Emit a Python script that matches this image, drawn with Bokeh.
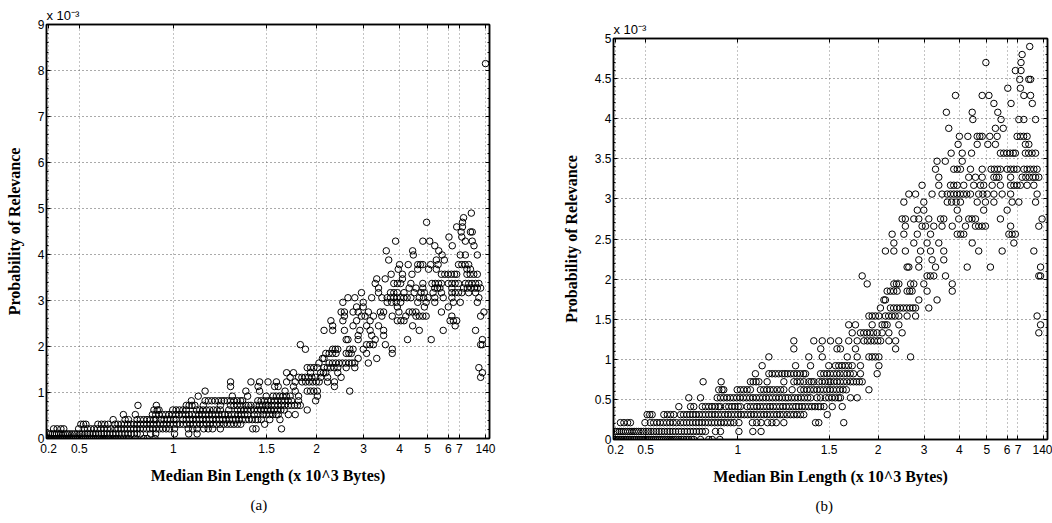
from bokeh.plotting import figure
from bokeh.layouts import row, column
from bokeh.models import (FixedTicker, ColumnDataSource, LinearAxis, Range1d, Spacer,
                          Title, CustomJSTickFormatter, NumeralTickFormatter)
from bokeh.embed import file_html
from bokeh.resources import INLINE

# ---------------- data (x = bin index, y = probability in units of 1e-3) ----------------
tick_idx = [1.0, 14.8, 57.3, 99.4, 121.9, 143.1, 159.4, 172.0, 181.4, 186.4, 198.2]
tick_text = ["0.2", "0.5", "1", "1.5", "2", "3", "4", "5", "6", "7", "140"]

rows_low = [
    (0.0, [0.3, 1, 1.8, 2.5, 3.3, 4, 4.8, 5.6, 6.4, 7.2, 8, 8.9, 9.7, 10.5, 11.4, 12.2, 13.1, 14,
           14.9, 15.8, 16.7, 17.6, 18.5, 19.4, 20.3, 21.2, 22.1, 23, 24, 25, 26, 27, 28, 29, 30.1,
           31.2, 32.3, 33.5, 34.7, 36, 37, 40.1, 43.9, 45.5, 49.0]),
    (0.1, [0.9, 1.8, 2.7, 3.6, 4.5, 5.5, 6.5, 7.5, 8.5, 9.5, 10.5, 11.6, 12.7, 13.8, 15, 16.1, 17.3,
           18.5, 19.7, 21, 22.2, 23.5, 24.8, 26, 27.3, 28.6, 30, 31.3, 32.7, 34, 35.4, 36.8, 38.2,
           39.6, 40.9, 42.4, 47.0, 49.3, 57.8, 64.2, 68.0]),
    (0.21, [3.2, 4.8, 6.5, 7.8, 14.5, 17, 18.5, 20, 21.5, 23, 24.5, 26, 27.5, 29, 30.9, 32.3, 33.7,
            35.1, 36.5, 38, 39.4, 40.8, 42.3, 43.7, 45.2, 46.6, 48, 49.5, 51, 52.5, 54, 55.5, 57.8,
            64, 66, 68, 71, 73, 75, 78.5, 93.1, 94.6, 106.1]),
    (0.31, [15.5, 16.7, 17.8, 23.2, 24.8, 26.3, 27.8, 30.9, 32.3, 33.8, 35.2, 36.6, 38, 39.5, 41,
            42.4, 43.9, 45.3, 46.8, 48.3, 49.8, 51.3, 52.8, 54.3, 55.8, 57.3, 58.8, 60.3, 61.8, 63.3,
            64.8, 66.3, 67.8, 69.3, 70.8, 72.3, 73.8, 75.3, 76.8, 78.3, 80, 81.6, 83.1, 84.6, 86.2,
            87.7, 98.5]),
    (0.41, [30.1, 35.5, 37, 40.9, 42.4, 43.9, 45.4, 46.9, 48.4, 49.3, 51.6, 53.1, 54.6, 56, 57.5,
            58.5, 61.6, 63.1, 64.6, 66.1, 67.6, 69.1, 70.6, 72.1, 73.6, 75.1, 76.6, 78.1, 79.6, 81,
            82.6, 84.1, 85.4, 86.9, 88.4, 89.9, 91.4, 92.9, 94.4, 95.4, 97, 100.8, 105.4]),
    (0.52, [34.7, 40.1, 47.8, 49.3, 50.8, 52.3, 53.8, 55.3, 56.8, 58.3, 59.8, 61.3, 62.8, 64.3, 65.8,
            67.3, 68.8, 70.3, 71.8, 73.3, 74.8, 76.3, 77.8, 79.3, 80.5, 82, 83.5, 85, 86.5, 88, 89.5,
            90.8, 93.8, 95.4, 97.7, 99.2, 100.7, 102.2, 103.7, 104.6, 109.2, 112.3]),
    (0.62, [48.5, 50, 50.8, 57, 58.5, 60, 61.6, 63.1, 67.7, 69.2, 70.7, 72.2, 73.7, 75.4, 77, 78.5,
            82.3, 86.2, 87.7, 89.2, 90.7, 92.3, 93.8, 95.3, 96.8, 98.3, 99.8, 101.3, 102.8, 104.3,
            105.8, 107.3, 117.7]),
    (0.72, [41.3, 49.6, 63.1, 64.4, 65.7, 67, 70.8, 78.5, 83.1, 84.6, 86.1, 87.7, 90, 91.2, 92.3,
            94.6, 96.1, 97.6, 99.1, 100, 101.5, 103, 104.5, 106, 107.5, 109.2, 110.6, 112, 113.3,
            114.6]),
    (0.82, [65.4, 71.6, 73.1, 74.6, 76.1, 77.7, 79, 80.2, 81.6, 83.1, 84.6, 86.1, 87.6, 88.5, 95.4,
            96.9, 98.4, 99.9, 101.4, 102.9, 104.4, 106.1, 107.6, 109.1, 110.6, 113.8, 121.5]),
    (0.92, [68.5, 83.9, 90.8, 99.2, 102.3, 103.8, 105.3, 106.8, 108.3, 110.0, 113.8, 122.3]),
]

rows_mid = [
    (1.03, [71.6, 90.0, 96.2, 107.7, 112.3, 117.7, 119.2, 120.7, 122.3, 136.9]),
    (1.13, [83.1, 95.5, 103.0, 104.6, 111.5, 130.0]),
    (1.23, [83.1, 92.3, 96.2, 100.0, 103.8, 108.4, 112.3, 115.4, 117.0, 118.6, 120.2, 121.8, 123.1,
            126.9, 130.0]),
    (1.33, [110.0, 113.8, 115.3, 116.8, 118.3, 119.8, 121.5, 123.8, 126.9, 133.0, 196.0]),
    (1.43, [108.4, 111.5, 119.2, 123.8, 125.0, 126.1, 131.5, 196.8]),
    (1.54, [117.7, 119.2, 120.7, 122.3, 125.3, 126.8, 128.3, 129.8, 131.5, 135.3, 139.2, 195.2]),
    (1.64, [123.0, 127.6, 129.1, 130.6, 132.1, 133.6, 135.1, 136.6, 138.0, 139.2, 145.3]),
    (1.74, [124.6, 125.3, 140.7, 149.1]),
    (1.85, [126.1, 127.6, 129.1, 130.7, 135.3, 136.5, 137.6, 144.5, 156.1]),
    (1.94, [116.9, 129.2, 130.4, 131.5, 136.9, 138.4, 143.0, 156.1]),
    (2.04, [114.6, 144.5, 146.0, 147.6, 153.0, 196.0, 196.8]),
    (2.15, [135.3, 136.1, 140.7, 148.4, 163.0, 173.7, 196.8]),
    (2.24, [140.7, 146.8, 152.2]),
    (2.35, [125.3, 129.2, 134.5, 141.5, 146.1, 152.2, 168.3, 179.1, 193.7]),
    (2.45, [129.2, 138.4, 144.5, 149.9, 165.3, 184.5]),
]

rows_high = [
    (2.56, [128.4, 133.8, 140.0, 146.1, 158.4, 160.0, 161.4, 182.2, 183.7, 185.2]),
    (2.66, [134.5, 142.2, 143.8, 147.6, 151.4, 156.1, 162.2, 166.8, 168.3, 169.9, 171.4, 183.0, 196.0]),
    (2.75, [133.0, 134.5, 138.4, 140.7, 145.3, 150.7, 152.2, 159.1, 163.7, 165.2, 166.8, 178.3, 197.5]),
    (2.86, [140.0, 143.0, 158.4, 170.6, 181.4]),
    (2.96, [133.8, 143.0, 153.8, 155.8, 157.9, 159.9, 167.6, 171.4, 175.3, 183.7, 186.8, 194.5]),
    (3.06, [136.1, 139.2, 146.8, 151.4, 153.8, 155.3, 156.8, 158.3, 159.8, 161.3, 162.8, 164.5, 168.3,
            170.2, 172.2, 175.3, 179.1, 183.0, 195.2]),
    (3.17, [142.2, 149.9, 155.3, 156.8, 158.4, 161.4, 166.0, 169.1, 170.6, 174.5, 178.3, 183.0, 184.5,
            186.0, 187.5, 190.6, 193.7]),
    (3.27, [149.9, 163.7, 166.8, 169.9, 175.3, 176.5, 177.6, 183.0, 188.3, 190.0, 191.6, 193.3, 194.5,
            196.0]),
    (3.37, [148.4, 156.8, 158.4, 159.9, 164.5, 169.9, 174.0, 175.5, 177.0, 178.3, 181.4, 183.0, 184.5,
            186.0, 189.1, 190.6, 192.1, 193.7, 195.2]),
    (3.47, [149.1, 152.9, 160.7]),
    (3.57, [155.6, 160.7, 165.0, 178.3, 179.8, 181.3, 182.8, 184.2, 185.2, 189.8, 191.3, 192.9, 194.5]),
    (3.68, [158.8, 167.6, 172.5, 176.0, 189.8, 191.4]),
    (3.78, [159.4, 163.3, 167.6, 168.8, 169.9, 173.4, 176.8, 186.0, 187.5, 189.0, 190.6]),
    (3.88, [154.5, 176.0, 179.6]),
    (3.99, [165.6, 178.6, 186.8, 189.1, 194.5]),
    (4.08, [153.4, 165.3, 177.1]),
    (4.19, [175.3, 183.2, 193.0]),
    (4.29, [157.6, 169.9, 173.0, 189.1, 192.2]),
    (4.38, [181.7, 187.5]),
    (4.49, [187.2, 191.4, 192.2]),
    (4.6, [185.2, 187.8]),
    (4.7, [171.6, 187.8]),
    (4.8, [188.3]),
    (4.9, [191.8]),
]

outlier_x = [198.2]
outlier_y = [8.15]

xs, ys = [], []
for rows in (rows_low, rows_mid, rows_high):
    for yv, xlist in rows:
        for xv in xlist:
            xs.append(xv)
            ys.append(yv)
xs += outlier_x
ys += outlier_y

SANS = "Liberation Sans"
SERIF = "Liberation Serif"


def make_panel(ymax, yticks, yminor, yfmt, caption, fw, fh, bl, bt, bb, br, cap_off):
    p = figure(frame_width=fw, frame_height=fh, x_range=Range1d(0, 200), y_range=Range1d(0, ymax),
               output_backend="svg", toolbar_location=None,
               min_border_left=bl, min_border_top=bt, min_border_bottom=bb, min_border_right=br,
               background_fill_color="white", border_fill_color="white")
    p.outline_line_color = "black"
    p.outline_line_width = 1.5
    p.outline_line_alpha = 1.0

    xt = FixedTicker(ticks=tick_idx)
    yt = FixedTicker(ticks=yticks, minor_ticks=yminor)
    xfmt = CustomJSTickFormatter(args=dict(pos=tick_idx, txt=tick_text), code="""
        let best = 0, bd = 1e9;
        for (let i = 0; i < pos.length; i++) { const d = Math.abs(pos[i] - tick); if (d < bd) { bd = d; best = i; } }
        return txt[best];""")
    empty = CustomJSTickFormatter(code="return '';")

    xa = p.xaxis[0]
    ya = p.yaxis[0]
    xa.ticker = xt
    xa.formatter = xfmt
    ya.ticker = yt
    ya.formatter = yfmt
    for ax in (xa, ya):
        ax.major_tick_in = 4
        ax.major_tick_out = 0
        ax.minor_tick_in = 2
        ax.minor_tick_out = 0
        ax.axis_line_color = "black"
        ax.axis_line_width = 1.5
        ax.major_tick_line_color = "black"
        ax.minor_tick_line_color = "black"
        ax.major_label_text_font = SANS
        ax.major_label_text_font_size = "12px"
        ax.major_label_text_color = "black"
        ax.axis_label_text_font = SERIF
        ax.axis_label_text_font_style = "bold"
        ax.axis_label_text_font_size = "16px"
        ax.axis_label_text_color = "black"
    xa.minor_tick_line_color = None
    xa.major_label_standoff = 5
    ya.major_label_standoff = 2
    xa.axis_label = "Median Bin Length (x 10^3 Bytes)"
    ya.axis_label = "Probability of Relevance"
    xa.axis_label_standoff = 11
    ya.axis_label_standoff = 12

    # mirrored ticks on top and right
    top = LinearAxis(ticker=xt, formatter=empty, major_tick_in=4, major_tick_out=0,
                     minor_tick_line_color=None, major_label_standoff=0,
                     axis_line_color="black", axis_line_width=1.5, major_label_text_font_size="0px")
    right = LinearAxis(ticker=yt, formatter=empty, major_tick_in=4, major_tick_out=0,
                       minor_tick_in=2, minor_tick_out=0, major_label_standoff=0,
                       axis_line_color="black", axis_line_width=1.5, major_label_text_font_size="0px")
    p.add_layout(top, "above")
    p.add_layout(right, "right")

    p.xgrid.ticker = xt
    p.ygrid.ticker = yt
    p.xgrid.grid_line_color = "#888888"
    p.ygrid.grid_line_color = "#555555"
    p.grid.grid_line_dash = "1 3"
    p.grid.grid_line_width = 1

    src = ColumnDataSource(dict(x=xs, y=ys))
    p.scatter("x", "y", source=src, marker="circle", size=6.5, fill_color=None,
              line_color="black", line_width=1.0)

    # exponent note above the y axis
    p.add_layout(Title(text="x 10\u207b\u00b3", align="left", offset=0, text_font=SANS,
                       text_font_size="13px", text_font_style="normal", text_color="black",
                       standoff=3), "above")

    p.add_layout(Title(text=caption, align="left", offset=cap_off, text_font=SERIF,
                       text_font_size="15px", text_font_style="normal", text_color="black",
                       standoff=17), "below")
    return p


pa = make_panel(9, list(range(10)), [v / 5 for v in range(46)], NumeralTickFormatter(format="0"),
                "(a)", 443, 414, 46, 24, 85, 41, 204)
pb = make_panel(5, [v * 0.5 for v in range(11)], [v / 10 for v in range(51)],
                NumeralTickFormatter(format="0.[0]"), "(b)", 434, 401, 83, 24, 85, 5, 202)

layout = row(pa, column(Spacer(width=522, height=14), pb))
open("out.html", "w").write(file_html(layout, INLINE))
